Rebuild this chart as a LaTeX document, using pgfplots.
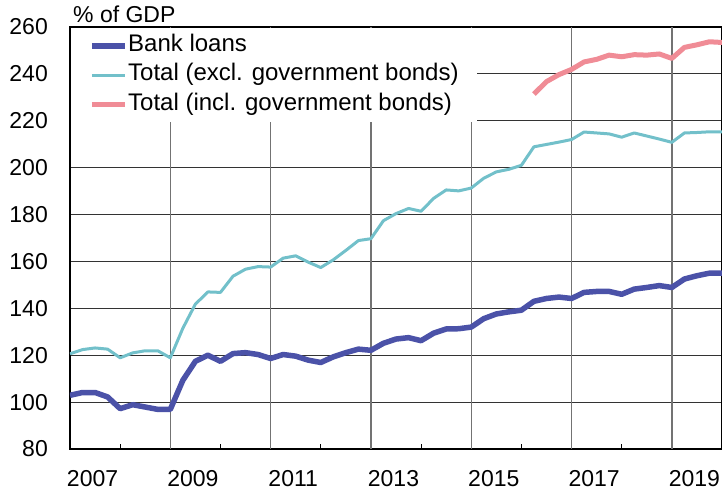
\documentclass[border=0pt]{standalone}
\usepackage{fontspec}
\setmainfont{Liberation Sans}
\usepackage{pgfplots}
\usepackage{pgfplotstable}
\pgfplotsset{compat=1.18}
\definecolor{bankblue}{RGB}{75,82,168}
\definecolor{exclteal}{RGB}{114,192,202}
\definecolor{inclpink}{RGB}{240,140,150}

\pgfplotstableread{
t val
2007.00 102.9
2007.25 104.1
2007.50 104.1
2007.75 102.2
2008.00 97.2
2008.25 98.9
2008.50 97.9
2008.75 96.9
2009.00 96.9
2009.25 109.3
2009.50 117.4
2009.75 120.0
2010.00 117.4
2010.25 120.7
2010.50 121.1
2010.75 120.3
2011.00 118.6
2011.25 120.3
2011.50 119.6
2011.75 117.9
2012.00 116.9
2012.25 119.3
2012.50 121.1
2012.75 122.6
2013.00 122.1
2013.25 125.1
2013.50 126.9
2013.75 127.5
2014.00 126.2
2014.25 129.4
2014.50 131.2
2014.75 131.3
2015.00 132.0
2015.25 135.6
2015.50 137.6
2015.75 138.5
2016.00 139.2
2016.25 143.0
2016.50 144.2
2016.75 144.8
2017.00 144.2
2017.25 146.8
2017.50 147.2
2017.75 147.2
2018.00 146.0
2018.25 148.2
2018.50 148.9
2018.75 149.7
2019.00 148.9
2019.25 152.5
2019.50 153.9
2019.75 155.0
2020.00 155.0
}\bankloans

\pgfplotstableread{
t val
2007.00 120.6
2007.25 122.4
2007.50 123.1
2007.75 122.6
2008.00 118.9
2008.25 121.0
2008.50 121.9
2008.75 121.9
2009.00 118.9
2009.25 131.5
2009.50 141.8
2009.75 147.0
2010.00 146.8
2010.25 153.7
2010.50 156.7
2010.75 157.8
2011.00 157.6
2011.25 161.4
2011.50 162.4
2011.75 159.7
2012.00 157.4
2012.25 160.7
2012.50 164.7
2012.75 168.9
2013.00 169.7
2013.25 177.4
2013.50 180.4
2013.75 182.6
2014.00 181.4
2014.25 186.9
2014.50 190.5
2014.75 190.1
2015.00 191.3
2015.25 195.5
2015.50 198.2
2015.75 199.3
2016.00 201.0
2016.25 208.9
2016.50 209.9
2016.75 210.9
2017.00 212.0
2017.25 215.2
2017.50 214.8
2017.75 214.4
2018.00 213.0
2018.25 214.8
2018.50 213.5
2018.75 212.2
2019.00 210.8
2019.25 214.8
2019.50 215.0
2019.75 215.3
2020.00 215.3
}\totalexcl

\pgfplotstableread{
t val
2016.25 231.4
2016.50 236.7
2016.75 239.7
2017.00 241.9
2017.25 245.1
2017.50 246.2
2017.75 248.0
2018.00 247.3
2018.25 248.2
2018.50 248.0
2018.75 248.5
2019.00 246.6
2019.25 251.3
2019.50 252.4
2019.75 253.7
2020.00 253.4
}\totalincl

\begin{document}
\begin{tikzpicture}
\begin{axis}[
    name=ax,
    scale only axis,
    width=652pt,
    height=422pt,
    xmin=2007, xmax=2020,
    ymin=80, ymax=260,
    font=\fontsize{23}{27}\selectfont,
    /pgf/number format/assume math mode=true,
    /pgf/number format/1000 sep={},
    axis line style={black, line width=1.1pt},
    major tick length=0pt,
    minor tick length=5pt,
    tick align=inside,
    xtick pos=bottom,
    ytick pos=left,
    xtick={2007.5,2009.5,2011.5,2013.5,2015.5,2017.5,2019.5},
    xticklabels={2007,2009,2011,2013,2015,2017,2019},
    minor xtick={2008,2010,2012,2014,2016,2018},
    minor tick style={black, line width=1pt},
    extra x ticks={2009,2011,2013,2015,2017,2019},
    extra x tick labels={},
    extra x tick style={grid=major, major grid style={black!55, line width=1.4pt}},
    ytick={80,100,...,260},
    ymajorgrids=true,
    major grid style={black!80, line width=0.9pt},
    xticklabel style={anchor=north, inner sep=0pt, yshift=-21pt, xshift=-2.5pt},
    yticklabel style={anchor=east, inner sep=0pt, xshift=-22pt},
    legend cell align=left,
    legend image code/.code={\draw[#1] (0pt,0pt) -- (33pt,0pt);},
    legend style={draw=none, fill=white,
        at={(axis description cs:0,1)}, anchor=north west,
        xshift=1pt, yshift=-1pt,
        inner xsep=18pt, inner ysep=6pt, row sep=5.8pt,
        font=\fontsize{24}{28}\selectfont,
        nodes={inner xsep=0.5pt, inner ysep=0pt, text height=17.5pt, text depth=6pt}},
]
\addplot[bankblue, line width=5.5pt, line join=round] table[x=t, y=val] {\bankloans};
\addplot[exclteal, line width=3pt, line join=round] table[x=t, y=val] {\totalexcl};
\addplot[inclpink, line width=5pt, line join=round] table[x=t, y=val] {\totalincl};
\legend{Bank loans, Total (excl. government bonds), Total (incl. government bonds)}
\end{axis}
\node[anchor=base west, inner sep=0pt, font=\fontsize{23}{27}\selectfont]
    at ([xshift=3pt, yshift=4pt]ax.north west) {\% of GDP};
\pgfresetboundingbox
\path[use as bounding box] ([xshift=-70pt, yshift=-46pt]ax.south west)
    rectangle ([yshift=27pt]ax.north east);
\end{tikzpicture}
\end{document}
